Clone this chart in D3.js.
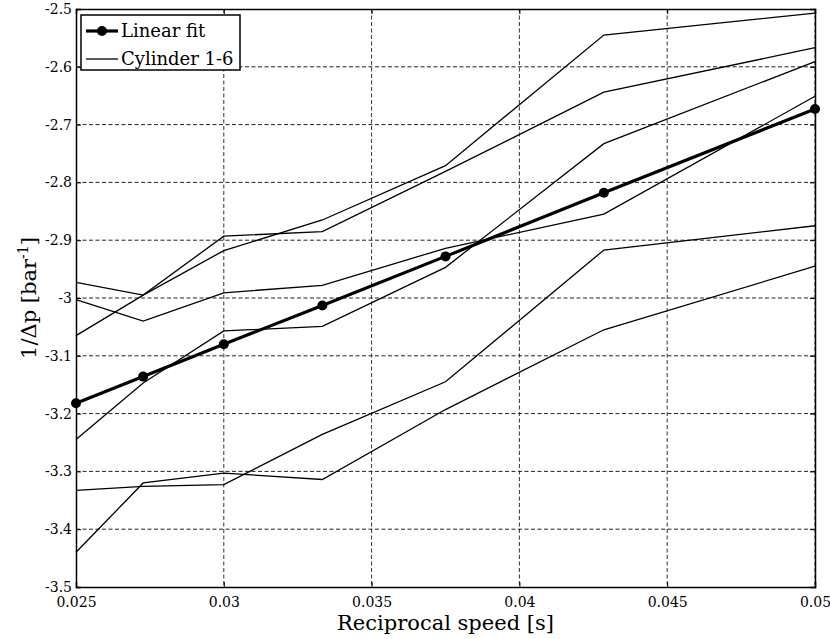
<!DOCTYPE html>
<html>
<head>
<meta charset="utf-8">
<script src="https://cdn.jsdelivr.net/npm/d3@7"></script>
<style>
  body { margin: 0; background: #fff; }
  svg { display: block; }
  text { font-family: "DejaVu Serif", serif; fill: #000; }
</style>
</head>
<body>
<div id="vis"></div>
<script>
// reciprocal engine speed, 60/rpm for 2400 ... 1200 rpm
const speeds = [0.025, 0.027273, 0.03, 0.033333, 0.0375, 0.042857, 0.05];

const linearFit = [-3.182, -3.136, -3.080, -3.013, -2.928, -2.818, -2.673];

const cyl1 = [-2.973, -2.995, -2.893, -2.885, -2.781, -2.644, -2.567];
const cyl2 = [-3.003, -3.040, -2.991, -2.978, -2.914, -2.855, -2.651];
const cyl3 = [-3.065, -2.995, -2.918, -2.865, -2.771, -2.545, -2.507];
const cyl4 = [-3.245, -3.147, -3.057, -3.049, -2.947, -2.733, -2.591];
const cyl5 = [-3.333, -3.326, -3.323, -3.236, -3.145, -2.917, -2.875];
const cyl6 = [-3.440, -3.320, -3.303, -3.314, -3.193, -3.055, -2.945];
const cylinders = [cyl1, cyl2, cyl3, cyl4, cyl5, cyl6];

const xTicks = [0.025, 0.03, 0.035, 0.04, 0.045, 0.05];
const yTicks = [-2.5, -2.6, -2.7, -2.8, -2.9, -3, -3.1, -3.2, -3.3, -3.4, -3.5];

const legendItems = ['Linear fit', 'Cylinder 1-6'];

const W = 830, H = 639;
const margin = { top: 9, right: 15, bottom: 52, left: 76 };
const width = W - margin.left - margin.right;
const height = H - margin.top - margin.bottom;

const svg = d3.select('#vis')
    .append('svg')
    .attr('width', W)
    .attr('height', H);

const g = svg.append('g')
    .attr('transform', `translate(${margin.left},${margin.top})`);

const x = d3.scaleLinear().domain([0.025, 0.05]).range([0, width]);
const y = d3.scaleLinear().domain([-3.5, -2.5]).range([height, 0]);

const fmt = d => String(d).replace('-', '-');

// grid
g.append('g')
    .selectAll('line')
    .data(xTicks.slice(1))
    .join('line')
    .attr('x1', d => x(d)).attr('x2', d => x(d))
    .attr('y1', 0).attr('y2', height)
    .attr('stroke', '#333')
    .attr('stroke-width', 1)
    .attr('stroke-dasharray', '4,2.5');

g.append('g')
    .selectAll('line')
    .data(yTicks.slice(1, -1))
    .join('line')
    .attr('x1', 0).attr('x2', width)
    .attr('y1', d => y(d)).attr('y2', d => y(d))
    .attr('stroke', '#222')
    .attr('stroke-width', 1)
    .attr('stroke-dasharray', '4,2.5');

// axes, ticks pointing inward
const xAxis = g.append('g')
    .attr('transform', `translate(0,${height})`)
    .call(d3.axisBottom(x).tickValues(xTicks).tickSize(-5).tickPadding(10).tickFormat(d => d));
const yAxis = g.append('g')
    .call(d3.axisLeft(y).tickValues(yTicks).tickSize(-5).tickPadding(4).tickFormat(fmt));
g.append('g')
    .call(d3.axisTop(x).tickValues(xTicks).tickSize(-5).tickFormat(''));
g.append('g')
    .attr('transform', `translate(${width},0)`)
    .call(d3.axisRight(y).tickValues(yTicks).tickSize(-5).tickFormat(''));

g.selectAll('.domain').attr('stroke', '#000').attr('stroke-width', 1.5);
g.selectAll('.tick line').attr('stroke', '#000');
xAxis.selectAll('text').style('font-size', '14px').style('font-family', '"DejaVu Serif", serif');
yAxis.selectAll('text').style('font-size', '14px').style('font-family', '"DejaVu Serif", serif');

// cylinder lines
const line = d3.line()
    .x((d, i) => x(speeds[i]))
    .y(d => y(d));

g.append('g')
    .selectAll('path')
    .data(cylinders)
    .join('path')
    .attr('d', line)
    .attr('fill', 'none')
    .attr('stroke', '#000')
    .attr('stroke-width', 1.3);

// linear fit
g.append('path')
    .datum(linearFit)
    .attr('d', line)
    .attr('fill', 'none')
    .attr('stroke', '#000')
    .attr('stroke-width', 3.2);

g.append('g')
    .selectAll('circle')
    .data(linearFit)
    .join('circle')
    .attr('cx', (d, i) => x(speeds[i]))
    .attr('cy', d => y(d))
    .attr('r', 5)
    .attr('fill', '#000');

// legend
const legend = g.append('g').attr('transform', 'translate(5,6)');
legend.append('rect')
    .attr('width', 159)
    .attr('height', 55)
    .attr('fill', '#fff')
    .attr('stroke', '#000')
    .attr('stroke-width', 1.5);

legend.append('line')
    .attr('x1', 5).attr('x2', 37).attr('y1', 16).attr('y2', 16)
    .attr('stroke', '#000').attr('stroke-width', 3.2);
legend.append('circle')
    .attr('cx', 21).attr('cy', 16).attr('r', 5).attr('fill', '#000');
legend.append('line')
    .attr('x1', 5).attr('x2', 37).attr('y1', 44).attr('y2', 44)
    .attr('stroke', '#000').attr('stroke-width', 1.3);

legend.selectAll('text.item')
    .data(legendItems)
    .join('text')
    .attr('class', 'item')
    .attr('x', 40)
    .attr('y', (d, i) => 22 + i * 28)
    .style('font-size', '18px')
    .text(d => d);

// axis titles
svg.append('text')
    .attr('x', margin.left + width / 2)
    .attr('y', 630)
    .attr('text-anchor', 'middle')
    .style('font-size', '21px')
    .text('Reciprocal speed [s]');

const yl = svg.append('text')
    .attr('transform', `translate(36,${margin.top + height / 2}) rotate(-90)`)
    .attr('text-anchor', 'middle')
    .style('font-size', '21px');
yl.append('tspan').text('1/Δp [bar');
yl.append('tspan').attr('dy', -8).style('font-size', '14px').text('-1');
yl.append('tspan').attr('dy', 8).text(']');
</script>
</body>
</html>
